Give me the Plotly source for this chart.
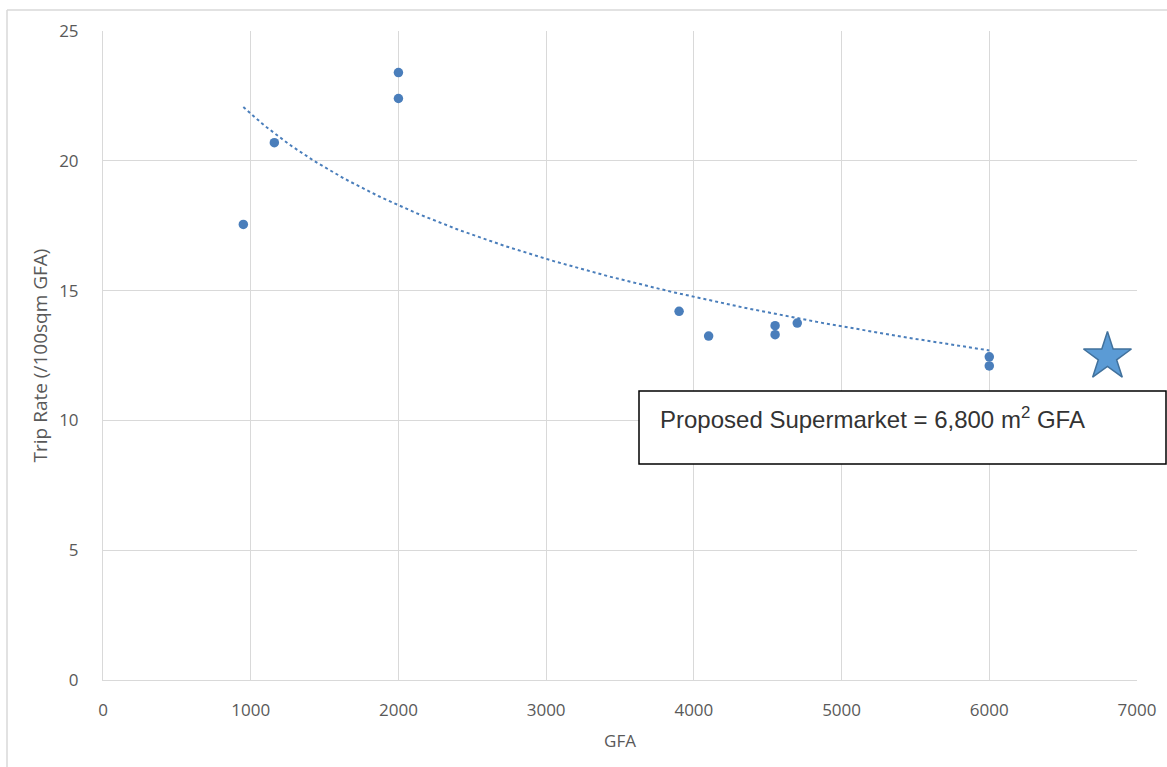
import numpy as np
import plotly.graph_objects as go

gfa = [950, 1160, 2000, 2000, 3900, 4100, 4550, 4550, 4700, 6000, 6000]
trip_rate = [17.55, 20.7, 23.4, 22.4, 14.2, 13.25, 13.65, 13.3, 13.75, 12.45, 12.1]
proposed_gfa = [6800]
proposed_rate = [12.45]
label_text = "Proposed Supermarket = 6,800 m<sup>2</sup> GFA"

# logarithmic trendline fitted to the observed points
a, b = np.polyfit(np.log(gfa), trip_rate, 1)
tx = np.linspace(min(gfa), max(gfa), 200)
ty = a * np.log(tx) + b

blue = "#4a7ebb"
fig = go.Figure()
fig.add_trace(go.Scatter(x=tx, y=ty, mode="lines",
                         line=dict(color=blue, width=2, dash="dot"),
                         hoverinfo="skip", showlegend=False))
fig.add_trace(go.Scatter(x=gfa, y=trip_rate, mode="markers",
                         marker=dict(color=blue, size=9.5), showlegend=False))
fig.add_trace(go.Scatter(x=proposed_gfa, y=proposed_rate, mode="markers",
                         marker=dict(symbol="star", size=36, color="#5b9bd5",
                                     line=dict(color="#41719c", width=1.5)),
                         showlegend=False))

font = "Open Sans, Liberation Sans, sans-serif"
fig.update_layout(
    width=1167, height=767,
    margin=dict(l=103, r=30, t=31, b=87),
    plot_bgcolor="white", paper_bgcolor="white",
    font=dict(family=font, color="#595959", size=17),
    xaxis=dict(range=[0, 7000], dtick=1000, showgrid=True, gridcolor="#d9d9d9",
               gridwidth=1, zeroline=False, showline=True, linecolor="#d9d9d9",
               ticks="", ticklabelstandoff=15, tickfont=dict(size=17),
               title=dict(text="GFA", font=dict(size=17), standoff=14)),
    yaxis=dict(range=[0, 25], dtick=5, showgrid=True, gridcolor="#d9d9d9",
               gridwidth=1, zeroline=False, showline=True, linecolor="#d9d9d9",
               ticks="", ticklabelstandoff=20, tickfont=dict(size=17),
               title=dict(text="Trip Rate (/100sqm GFA)", font=dict(size=19), standoff=6)),
)

# annotation box
fig.add_shape(type="rect", xref="paper", yref="paper",
              x0=(639 - 103) / 1034, x1=(1166 - 103) / 1034,
              y0=(680 - 464) / 649, y1=(680 - 391) / 649,
              line=dict(color="black", width=1.5), fillcolor="white", layer="above")
fig.add_annotation(xref="paper", yref="paper", x=(658 - 103) / 1034, y=(680 - 418) / 649,
                   xanchor="left", yanchor="middle", showarrow=False, text=label_text,
                   font=dict(family="Liberation Sans, Arial, sans-serif", size=24, color="#333333"))

# outer chart border (left and top visible)
fig.add_shape(type="line", xref="paper", yref="paper",
              x0=(7 - 103) / 1034, x1=(7 - 103) / 1034, y0=(680 - 780) / 649, y1=(680 - 10) / 649,
              line=dict(color="#d9d9d9", width=1.5))
fig.add_shape(type="line", xref="paper", yref="paper",
              x0=(7 - 103) / 1034, x1=(1180 - 103) / 1034, y0=(680 - 10) / 649, y1=(680 - 10) / 649,
              line=dict(color="#d9d9d9", width=1.5))

fig.write_html("out.html", config={"displayModeBar": False},
               post_script="document.body.style.margin='0px';")
